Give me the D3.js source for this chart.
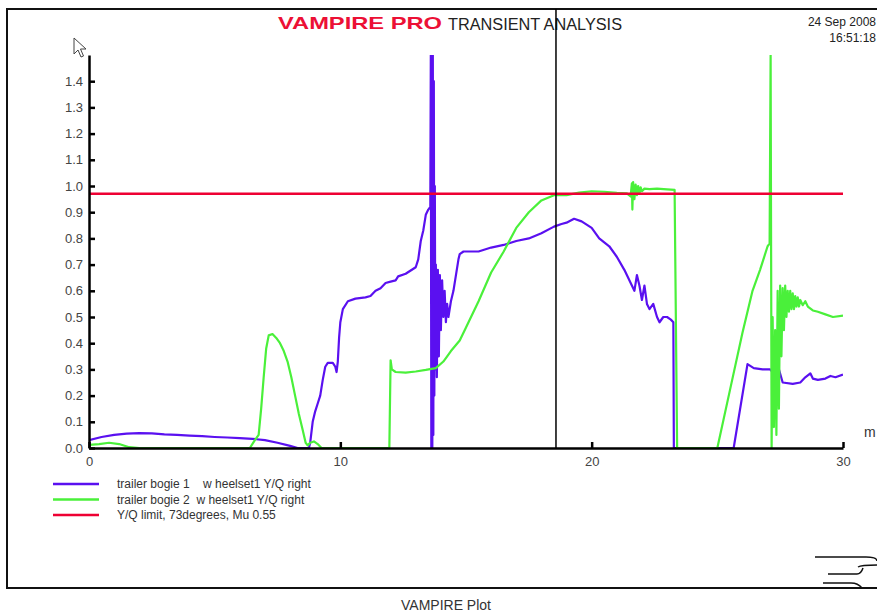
<!DOCTYPE html>
<html>
<head>
<meta charset="utf-8">
<script src="https://cdn.jsdelivr.net/npm/d3@7"></script>
<style>
  body { margin: 0; background: #fff; }
  svg { display: block; font-family: "Liberation Sans", Arial, sans-serif; }
</style>
</head>
<body>
<div id="grafico"></div>
<script>
// data: distance (m) vs Y/Q
const bogie1 = [
  [0, 0.03], [0.5, 0.042], [1, 0.05], [1.5, 0.055], [2, 0.057], [2.5, 0.056], [3, 0.052],
  [3.5, 0.05], [4, 0.047], [4.5, 0.045], [5, 0.042], [5.5, 0.04], [6, 0.038], [6.5, 0.035],
  [7, 0.03], [7.5, 0.02], [8, 0.008], [8.3, 0], [8.75, 0],
  [8.8, 0.02], [8.9, 0.1], [9.0, 0.14], [9.1, 0.17], [9.2, 0.2], [9.3, 0.26], [9.4, 0.31],
  [9.5, 0.325], [9.7, 0.325], [9.8, 0.31], [9.85, 0.29], [9.9, 0.33], [9.95, 0.42],
  [10.0, 0.48], [10.1, 0.53], [10.3, 0.56], [10.6, 0.57], [11.0, 0.575], [11.2, 0.58],
  [11.4, 0.6], [11.6, 0.61], [11.8, 0.63], [12.0, 0.635], [12.2, 0.64], [12.3, 0.655],
  [12.6, 0.665], [13.0, 0.69], [13.1, 0.72], [13.2, 0.79], [13.3, 0.83], [13.4, 0.89],
  [13.5, 0.91], [13.58, 0.92],
  [13.6, 1.5], [13.62, 0.0], [13.64, 1.5], [13.66, 0.0], [13.68, 1.5], [13.7, 0.05],
  [13.72, 1.4], [13.74, 0.2], [13.76, 1.0], [13.78, 0.3], [13.8, 0.7], [13.84, 0.27],
  [13.88, 0.68], [13.92, 0.35], [13.96, 0.66], [14.0, 0.45], [14.05, 0.64], [14.1, 0.5],
  [14.15, 0.6], [14.2, 0.48], [14.25, 0.55], [14.3, 0.5], [14.4, 0.56], [14.5, 0.6],
  [14.6, 0.66], [14.7, 0.72], [14.75, 0.74], [14.9, 0.75], [15.5, 0.75], [16, 0.765],
  [16.5, 0.775], [17, 0.79], [17.5, 0.8], [18, 0.82], [18.5, 0.845], [18.8, 0.855],
  [19.0, 0.86], [19.3, 0.875], [19.6, 0.865], [20.0, 0.84], [20.3, 0.8], [20.7, 0.77],
  [21.0, 0.73], [21.3, 0.68], [21.6, 0.62], [21.7, 0.6], [21.8, 0.66], [21.9, 0.62],
  [22.0, 0.565], [22.1, 0.62], [22.2, 0.55], [22.3, 0.53], [22.45, 0.55], [22.6, 0.5],
  [22.7, 0.48], [22.85, 0.5], [23.0, 0.5], [23.15, 0.49], [23.25, 0.48], [23.27, 0],
  [25.65, 0],
  [26.2, 0.32], [26.45, 0.305], [26.8, 0.3], [27.1, 0.3], [27.2, 0.29], [27.3, 0.31],
  [27.35, 0.28], [27.45, 0.3], [27.6, 0.25], [28.0, 0.245], [28.3, 0.25], [28.5, 0.27],
  [28.7, 0.285], [28.8, 0.265], [29.0, 0.26], [29.3, 0.265], [29.5, 0.275], [29.7, 0.27],
  [30, 0.28]
];

const bogie2 = [
  [0, 0.012], [0.4, 0.015], [0.8, 0.02], [1.2, 0.015], [1.6, 0.003], [2, 0], [6.4, 0],
  [6.6, 0.03], [6.75, 0.05], [6.85, 0.15], [6.95, 0.27], [7.05, 0.38], [7.15, 0.43],
  [7.3, 0.435], [7.45, 0.42], [7.6, 0.4], [7.75, 0.37], [7.9, 0.33], [8.05, 0.27],
  [8.2, 0.2], [8.35, 0.13], [8.5, 0.07], [8.62, 0.02], [8.7, 0.01], [8.8, 0.02],
  [8.95, 0.025], [9.1, 0.015], [9.25, 0], [11.95, 0],
  [12.0, 0.335], [12.05, 0.3], [12.2, 0.29], [12.6, 0.288], [13.0, 0.292], [13.4, 0.298],
  [13.8, 0.305], [14.1, 0.33], [14.4, 0.37], [14.75, 0.41], [15.0, 0.46], [15.5, 0.56],
  [16.0, 0.67], [16.5, 0.75], [17.0, 0.84], [17.5, 0.9], [18.0, 0.945], [18.5, 0.965],
  [19.0, 0.965], [19.5, 0.975], [20.0, 0.98], [20.5, 0.978], [21.0, 0.974], [21.4, 0.972],
  [21.55, 0.96], [21.6, 1.01], [21.62, 0.91], [21.65, 1.015], [21.7, 0.95], [21.75, 1.005],
  [21.8, 0.965], [21.85, 1.0], [21.9, 0.97], [21.95, 0.995], [22.0, 0.98], [22.1, 0.99],
  [22.3, 0.988], [22.6, 0.99], [23.0, 0.987], [23.3, 0.985], [23.4, 0], [25.0, 0],
  [25.5, 0.22], [26.0, 0.44], [26.4, 0.6], [26.7, 0.68], [27.0, 0.77], [27.08, 0.78],
  [27.12, 1.5], [27.16, 0.0], [27.2, 0.5], [27.25, 0.08], [27.3, 0.45], [27.35, 0.05],
  [27.4, 0.6], [27.45, 0.15], [27.5, 0.62], [27.55, 0.35], [27.6, 0.61], [27.65, 0.45],
  [27.7, 0.62], [27.75, 0.5], [27.8, 0.6], [27.85, 0.52], [27.9, 0.6], [27.95, 0.53],
  [28.0, 0.59], [28.05, 0.53], [28.1, 0.58], [28.15, 0.54], [28.2, 0.575], [28.25, 0.54],
  [28.3, 0.565], [28.4, 0.545], [28.5, 0.56], [28.6, 0.54], [28.8, 0.525], [29.0, 0.52],
  [29.3, 0.51], [29.6, 0.5], [30, 0.505]
];

const limite = [[0, 0.97], [30, 0.97]];
const cursorX = 18.58;

const xTicks = [0, 10, 20, 30];
const yTicks = [0, 0.1, 0.2, 0.3, 0.4, 0.5, 0.6, 0.7, 0.8, 0.9, 1.0, 1.1, 1.2, 1.3, 1.4];

const leyendas = [
  { texto: "trailer bogie 1    w heelset1 Y/Q right", color: "#5a10f0" },
  { texto: "trailer bogie 2  w heelset1 Y/Q right", color: "#4af03a" },
  { texto: "Y/Q limit, 73degrees, Mu 0.55", color: "#ee0033" }
];

const width = 877;
const height = 614;

const svg = d3.select("#grafico")
  .append("svg")
  .attr("width", width)
  .attr("height", height);

svg.append("rect").attr("width", width).attr("height", height).attr("fill", "#fff");

const x = d3.scaleLinear().domain([0, 30]).range([89, 843]);
const y = d3.scaleLinear().domain([0, 1.5]).range([448, 55]);

// outer frame
svg.append("path")
  .attr("d", "M877,9 H7 V588 H877")
  .attr("fill", "none")
  .attr("stroke", "#111")
  .attr("stroke-width", 2);

// title
svg.append("text")
  .attr("x", 278).attr("y", 29)
  .attr("textLength", 164)
  .attr("lengthAdjust", "spacingAndGlyphs")
  .style("font-size", "17px")
  .style("font-weight", "900")
  .style("fill", "#ec1035")
  .text("VAMPIRE PRO");

svg.append("text")
  .attr("x", 448).attr("y", 30)
  .attr("textLength", 174)
  .attr("lengthAdjust", "spacingAndGlyphs")
  .style("font-size", "16px")
  .style("fill", "#222")
  .text("TRANSIENT ANALYSIS");

svg.append("text")
  .attr("x", 876).attr("y", 26)
  .attr("text-anchor", "end")
  .style("font-size", "12px")
  .style("fill", "#222")
  .text("24 Sep 2008");

svg.append("text")
  .attr("x", 876).attr("y", 42)
  .attr("text-anchor", "end")
  .style("font-size", "12px")
  .style("fill", "#222")
  .text("16:51:18");

// clip for the curves
svg.append("clipPath").attr("id", "zona")
  .append("rect")
  .attr("x", x(0)).attr("y", y(1.5))
  .attr("width", x(30) - x(0)).attr("height", y(0) - y(1.5));

const linea = d3.line().x((d) => x(d[0])).y((d) => y(d[1]));

const curvas = svg.append("g").attr("clip-path", "url(#zona)");

[bogie1, bogie2, limite].forEach((serie, i) => {
  curvas.append("path")
    .datum(serie)
    .attr("d", linea)
    .attr("fill", "none")
    .attr("stroke", leyendas[i].color)
    .attr("stroke-width", i === 2 ? 2.5 : 2.2)
    .attr("stroke-linejoin", "round");
});

// axes
const ejeY = svg.append("g")
  .attr("transform", `translate(${x(0)},0)`)
  .call(d3.axisLeft(y).tickValues(yTicks).tickFormat(d3.format(".1f"))
    .tickSizeInner(-6).tickSizeOuter(0).tickPadding(6));

const ejeX = svg.append("g")
  .attr("transform", `translate(0,${y(0)})`)
  .call(d3.axisBottom(x).tickValues(xTicks).tickFormat(d3.format("d"))
    .tickSizeInner(-6).tickSizeOuter(0).tickPadding(9));

[ejeY, ejeX].forEach((g) => {
  g.select(".domain").attr("stroke", "#000").attr("stroke-width", 2.5);
  g.selectAll(".tick line").attr("stroke", "#000").attr("stroke-width", 2.5);
  g.selectAll(".tick text")
    .style("font-size", "13px")
    .style("font-family", "'Liberation Sans', Arial, sans-serif")
    .attr("fill", "#444");
});

// cursor line
svg.append("line")
  .attr("x1", x(cursorX)).attr("x2", x(cursorX))
  .attr("y1", 9).attr("y2", y(0))
  .attr("stroke", "#000")
  .attr("stroke-width", 1.5);

svg.append("text")
  .attr("x", 864).attr("y", 437)
  .style("font-size", "14px")
  .style("fill", "#333")
  .text("m");

// legend
const leyenda = svg.append("g").attr("transform", "translate(53, 484)");

leyenda.selectAll("g")
  .data(leyendas)
  .join("g")
  .attr("transform", (d, i) => `translate(0, ${i * 15.5})`)
  .each(function (d) {
    d3.select(this).append("line")
      .attr("x1", 0).attr("x2", 46)
      .attr("stroke", d.color)
      .attr("stroke-width", 2.5);
    d3.select(this).append("text")
      .attr("x", 64).attr("y", 4)
      .attr("xml:space", "preserve")
      .style("white-space", "pre")
      .style("font-size", "12px")
      .style("fill", "#333")
      .text(d.texto);
  });

svg.append("text")
  .attr("x", 446).attr("y", 610)
  .attr("text-anchor", "middle")
  .style("font-size", "14px")
  .style("fill", "#333")
  .text("VAMPIRE Plot");

// little logo, bottom right
const logo = svg.append("g")
  .attr("fill", "none")
  .attr("stroke", "#111")
  .attr("stroke-width", 1.5);
logo.append("path").attr("d", "M815,557 H866 Q877,557 877,561");
logo.append("path").attr("d", "M858,567 Q861,565 877,565");
logo.append("path").attr("d", "M828,574 H857 Q861,574 863,568");
logo.append("path").attr("d", "M823,583 H851 Q858,583 862,588");

// mouse pointer
svg.append("path")
  .attr("d", "M74,38 L74,54 L78,50 L81,57 L83.5,56 L80.5,49 L86,49 Z")
  .attr("fill", "#fff")
  .attr("stroke", "#444")
  .attr("stroke-width", 1);
</script>
</body>
</html>
